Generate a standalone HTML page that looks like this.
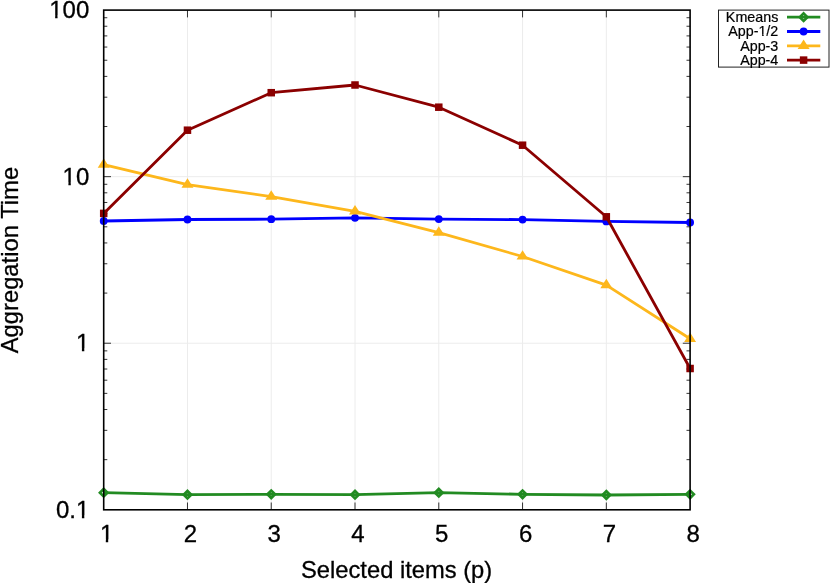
<!DOCTYPE html>
<html><head><meta charset="utf-8"><title>Aggregation Time</title>
<style>
html,body{margin:0;padding:0;background:#fff;}
body{width:830px;height:583px;overflow:hidden;font-family:"Liberation Sans",sans-serif;}
svg{display:block;will-change:transform;}
</style></head><body>
<svg width="830" height="583" viewBox="0 0 830 583">
<rect x="0" y="0" width="830" height="583" fill="#ffffff"/>
<g stroke="#ececec" stroke-width="1" fill="none">
<line x1="187.47" y1="10.10" x2="187.47" y2="509.80"/>
<line x1="271.24" y1="10.10" x2="271.24" y2="509.80"/>
<line x1="355.01" y1="10.10" x2="355.01" y2="509.80"/>
<line x1="438.79" y1="10.10" x2="438.79" y2="509.80"/>
<line x1="522.56" y1="10.10" x2="522.56" y2="509.80"/>
<line x1="606.33" y1="10.10" x2="606.33" y2="509.80"/>
<line x1="103.70" y1="176.67" x2="690.10" y2="176.67"/>
<line x1="103.70" y1="343.23" x2="690.10" y2="343.23"/>
</g>
<g stroke="#000" stroke-width="0.8" fill="none">
<line x1="187.47" y1="509.80" x2="187.47" y2="502.50"/>
<line x1="187.47" y1="10.10" x2="187.47" y2="17.40"/>
<line x1="271.24" y1="509.80" x2="271.24" y2="502.50"/>
<line x1="271.24" y1="10.10" x2="271.24" y2="17.40"/>
<line x1="355.01" y1="509.80" x2="355.01" y2="502.50"/>
<line x1="355.01" y1="10.10" x2="355.01" y2="17.40"/>
<line x1="438.79" y1="509.80" x2="438.79" y2="502.50"/>
<line x1="438.79" y1="10.10" x2="438.79" y2="17.40"/>
<line x1="522.56" y1="509.80" x2="522.56" y2="502.50"/>
<line x1="522.56" y1="10.10" x2="522.56" y2="17.40"/>
<line x1="606.33" y1="509.80" x2="606.33" y2="502.50"/>
<line x1="606.33" y1="10.10" x2="606.33" y2="17.40"/>
<line x1="103.70" y1="176.67" x2="111.00" y2="176.67"/>
<line x1="690.10" y1="176.67" x2="682.80" y2="176.67"/>
<line x1="103.70" y1="126.53" x2="107.30" y2="126.53"/>
<line x1="690.10" y1="126.53" x2="686.50" y2="126.53"/>
<line x1="103.70" y1="97.19" x2="107.30" y2="97.19"/>
<line x1="690.10" y1="97.19" x2="686.50" y2="97.19"/>
<line x1="103.70" y1="76.38" x2="107.30" y2="76.38"/>
<line x1="690.10" y1="76.38" x2="686.50" y2="76.38"/>
<line x1="103.70" y1="60.24" x2="107.30" y2="60.24"/>
<line x1="690.10" y1="60.24" x2="686.50" y2="60.24"/>
<line x1="103.70" y1="47.05" x2="107.30" y2="47.05"/>
<line x1="690.10" y1="47.05" x2="686.50" y2="47.05"/>
<line x1="103.70" y1="35.90" x2="107.30" y2="35.90"/>
<line x1="690.10" y1="35.90" x2="686.50" y2="35.90"/>
<line x1="103.70" y1="26.24" x2="107.30" y2="26.24"/>
<line x1="690.10" y1="26.24" x2="686.50" y2="26.24"/>
<line x1="103.70" y1="17.72" x2="107.30" y2="17.72"/>
<line x1="690.10" y1="17.72" x2="686.50" y2="17.72"/>
<line x1="103.70" y1="343.23" x2="111.00" y2="343.23"/>
<line x1="690.10" y1="343.23" x2="682.80" y2="343.23"/>
<line x1="103.70" y1="293.09" x2="107.30" y2="293.09"/>
<line x1="690.10" y1="293.09" x2="686.50" y2="293.09"/>
<line x1="103.70" y1="263.76" x2="107.30" y2="263.76"/>
<line x1="690.10" y1="263.76" x2="686.50" y2="263.76"/>
<line x1="103.70" y1="242.95" x2="107.30" y2="242.95"/>
<line x1="690.10" y1="242.95" x2="686.50" y2="242.95"/>
<line x1="103.70" y1="226.81" x2="107.30" y2="226.81"/>
<line x1="690.10" y1="226.81" x2="686.50" y2="226.81"/>
<line x1="103.70" y1="213.62" x2="107.30" y2="213.62"/>
<line x1="690.10" y1="213.62" x2="686.50" y2="213.62"/>
<line x1="103.70" y1="202.47" x2="107.30" y2="202.47"/>
<line x1="690.10" y1="202.47" x2="686.50" y2="202.47"/>
<line x1="103.70" y1="192.81" x2="107.30" y2="192.81"/>
<line x1="690.10" y1="192.81" x2="686.50" y2="192.81"/>
<line x1="103.70" y1="184.29" x2="107.30" y2="184.29"/>
<line x1="690.10" y1="184.29" x2="686.50" y2="184.29"/>
<line x1="103.70" y1="459.66" x2="107.30" y2="459.66"/>
<line x1="690.10" y1="459.66" x2="686.50" y2="459.66"/>
<line x1="103.70" y1="430.33" x2="107.30" y2="430.33"/>
<line x1="690.10" y1="430.33" x2="686.50" y2="430.33"/>
<line x1="103.70" y1="409.52" x2="107.30" y2="409.52"/>
<line x1="690.10" y1="409.52" x2="686.50" y2="409.52"/>
<line x1="103.70" y1="393.37" x2="107.30" y2="393.37"/>
<line x1="690.10" y1="393.37" x2="686.50" y2="393.37"/>
<line x1="103.70" y1="380.19" x2="107.30" y2="380.19"/>
<line x1="690.10" y1="380.19" x2="686.50" y2="380.19"/>
<line x1="103.70" y1="369.03" x2="107.30" y2="369.03"/>
<line x1="690.10" y1="369.03" x2="686.50" y2="369.03"/>
<line x1="103.70" y1="359.38" x2="107.30" y2="359.38"/>
<line x1="690.10" y1="359.38" x2="686.50" y2="359.38"/>
<line x1="103.70" y1="350.86" x2="107.30" y2="350.86"/>
<line x1="690.10" y1="350.86" x2="686.50" y2="350.86"/>
</g>
<polyline points="103.70,492.70 187.47,494.70 271.24,494.30 355.01,494.70 438.79,492.70 522.56,494.30 606.33,495.00 690.10,494.30" fill="none" stroke="#228b22" stroke-width="2.8" stroke-linejoin="round" stroke-linecap="butt"/>
<path d="M99.95 492.70L103.70 488.95L107.45 492.70L103.70 496.45Z" fill="none" stroke="#228b22" stroke-width="2.7" stroke-linejoin="miter"/>
<path d="M183.72 494.70L187.47 490.95L191.22 494.70L187.47 498.45Z" fill="none" stroke="#228b22" stroke-width="2.7" stroke-linejoin="miter"/>
<path d="M267.49 494.30L271.24 490.55L274.99 494.30L271.24 498.05Z" fill="none" stroke="#228b22" stroke-width="2.7" stroke-linejoin="miter"/>
<path d="M351.26 494.70L355.01 490.95L358.76 494.70L355.01 498.45Z" fill="none" stroke="#228b22" stroke-width="2.7" stroke-linejoin="miter"/>
<path d="M435.04 492.70L438.79 488.95L442.54 492.70L438.79 496.45Z" fill="none" stroke="#228b22" stroke-width="2.7" stroke-linejoin="miter"/>
<path d="M518.81 494.30L522.56 490.55L526.31 494.30L522.56 498.05Z" fill="none" stroke="#228b22" stroke-width="2.7" stroke-linejoin="miter"/>
<path d="M602.58 495.00L606.33 491.25L610.08 495.00L606.33 498.75Z" fill="none" stroke="#228b22" stroke-width="2.7" stroke-linejoin="miter"/>
<path d="M686.35 494.30L690.10 490.55L693.85 494.30L690.10 498.05Z" fill="none" stroke="#228b22" stroke-width="2.7" stroke-linejoin="miter"/>
<polyline points="103.70,221.00 187.47,219.50 271.24,219.20 355.01,217.80 438.79,219.10 522.56,219.60 606.33,221.40 690.10,222.50" fill="none" stroke="#0000ff" stroke-width="2.8" stroke-linejoin="round" stroke-linecap="butt"/>
<circle cx="103.70" cy="221.00" r="3.9" fill="#0000ff"/>
<circle cx="187.47" cy="219.50" r="3.9" fill="#0000ff"/>
<circle cx="271.24" cy="219.20" r="3.9" fill="#0000ff"/>
<circle cx="355.01" cy="217.80" r="3.9" fill="#0000ff"/>
<circle cx="438.79" cy="219.10" r="3.9" fill="#0000ff"/>
<circle cx="522.56" cy="219.60" r="3.9" fill="#0000ff"/>
<circle cx="606.33" cy="221.40" r="3.9" fill="#0000ff"/>
<circle cx="690.10" cy="222.50" r="3.9" fill="#0000ff"/>
<polyline points="103.70,164.60 187.47,184.60 271.24,196.60 355.01,211.30 438.79,232.60 522.56,256.50 606.33,285.10 690.10,338.80" fill="none" stroke="#fdb71c" stroke-width="2.8" stroke-linejoin="round" stroke-linecap="butt"/>
<path d="M103.70 158.30L97.70 167.70L109.70 167.70Z" fill="#fdb71c"/>
<path d="M187.47 178.30L181.47 187.70L193.47 187.70Z" fill="#fdb71c"/>
<path d="M271.24 190.30L265.24 199.70L277.24 199.70Z" fill="#fdb71c"/>
<path d="M355.01 205.00L349.01 214.40L361.01 214.40Z" fill="#fdb71c"/>
<path d="M438.79 226.30L432.79 235.70L444.79 235.70Z" fill="#fdb71c"/>
<path d="M522.56 250.20L516.56 259.60L528.56 259.60Z" fill="#fdb71c"/>
<path d="M606.33 278.80L600.33 288.20L612.33 288.20Z" fill="#fdb71c"/>
<path d="M690.10 332.50L684.10 341.90L696.10 341.90Z" fill="#fdb71c"/>
<polyline points="103.70,213.40 187.47,130.20 271.24,92.70 355.01,85.00 438.79,107.20 522.56,145.20 606.33,216.80 690.10,368.50" fill="none" stroke="#8b0000" stroke-width="2.8" stroke-linejoin="round" stroke-linecap="butt"/>
<rect x="99.95" y="209.65" width="7.5" height="7.5" fill="#8b0000"/>
<rect x="183.72" y="126.45" width="7.5" height="7.5" fill="#8b0000"/>
<rect x="267.49" y="88.95" width="7.5" height="7.5" fill="#8b0000"/>
<rect x="351.26" y="81.25" width="7.5" height="7.5" fill="#8b0000"/>
<rect x="435.04" y="103.45" width="7.5" height="7.5" fill="#8b0000"/>
<rect x="518.81" y="141.45" width="7.5" height="7.5" fill="#8b0000"/>
<rect x="602.58" y="213.05" width="7.5" height="7.5" fill="#8b0000"/>
<rect x="686.35" y="364.75" width="7.5" height="7.5" fill="#8b0000"/>
<rect x="103.70" y="10.10" width="586.40" height="499.70" fill="none" stroke="#000" stroke-width="1.6"/>
<g font-family="'Liberation Sans', sans-serif" font-size="24" fill="#000" stroke="#000" stroke-width="0.3">
<text x="89.3" y="18" text-anchor="end">100</text>
<text x="89.3" y="185" text-anchor="end">10</text>
<text x="89.3" y="351" text-anchor="end">1</text>
<text x="89.3" y="518" text-anchor="end">0.1</text>
<text x="106.70" y="542" text-anchor="middle">1</text>
<text x="190.47" y="542" text-anchor="middle">2</text>
<text x="274.24" y="542" text-anchor="middle">3</text>
<text x="358.01" y="542" text-anchor="middle">4</text>
<text x="441.79" y="542" text-anchor="middle">5</text>
<text x="525.56" y="542" text-anchor="middle">6</text>
<text x="609.33" y="542" text-anchor="middle">7</text>
<text x="693.10" y="542" text-anchor="middle">8</text>
<text x="396.6" y="577.7" font-size="23.72" text-anchor="middle">Selected items (p)</text>
<text transform="translate(18.0,260.1) rotate(-90)" font-size="23.8" text-anchor="middle">Aggregation Time</text>
</g>
<rect x="718.5" y="10.1" width="110.5" height="57.0" fill="#fff" stroke="#222" stroke-width="1"/>
<g font-family="'Liberation Sans', sans-serif" font-size="14.3" fill="#000" stroke="#000" stroke-width="0.2">
<text x="778.3" y="21.85" text-anchor="end">Kmeans</text>
<text x="778.3" y="36.20" text-anchor="end">App-1/2</text>
<text x="778.3" y="50.55" text-anchor="end">App-3</text>
<text x="778.3" y="64.80" text-anchor="end">App-4</text>
</g>
<line x1="787" y1="17.15" x2="820.3" y2="17.15" stroke="#228b22" stroke-width="2.8"/>
<path d="M799.85 17.15L803.60 13.40L807.35 17.15L803.60 20.90Z" fill="none" stroke="#228b22" stroke-width="2.7" stroke-linejoin="miter"/>
<line x1="787" y1="31.5" x2="820.3" y2="31.5" stroke="#0000ff" stroke-width="2.8"/>
<circle cx="803.60" cy="31.50" r="3.9" fill="#0000ff"/>
<line x1="787" y1="45.85" x2="820.3" y2="45.85" stroke="#fdb71c" stroke-width="2.8"/>
<path d="M803.60 39.55L797.60 48.95L809.60 48.95Z" fill="#fdb71c"/>
<line x1="787" y1="60.1" x2="820.3" y2="60.1" stroke="#8b0000" stroke-width="2.8"/>
<rect x="799.85" y="56.35" width="7.5" height="7.5" fill="#8b0000"/>
<g shape-rendering="auto">
<rect x="49.70" y="15.52" width="5.45" height="3.48" fill="#ffffff"/>
<rect x="57.55" y="15.52" width="5.25" height="3.48" fill="#ffffff"/>
<rect x="62.70" y="182.52" width="5.69" height="3.48" fill="#ffffff"/>
<rect x="70.79" y="182.52" width="5.01" height="3.48" fill="#ffffff"/>
<rect x="75.70" y="348.52" width="6.19" height="3.48" fill="#ffffff"/>
<rect x="84.31" y="348.52" width="5.49" height="3.48" fill="#ffffff"/>
<rect x="75.70" y="515.52" width="6.19" height="3.48" fill="#ffffff"/>
<rect x="84.31" y="515.52" width="5.49" height="3.48" fill="#ffffff"/>
<rect x="99.60" y="539.52" width="6.19" height="3.48" fill="#ffffff"/>
<rect x="108.21" y="539.52" width="5.49" height="3.48" fill="#ffffff"/>
<rect x="757.70" y="34.00" width="4.43" height="3.00" fill="#ffffff"/>
<rect x="763.66" y="34.00" width="2.54" height="3.00" fill="#ffffff"/>
</g>
</svg>
</body></html>
